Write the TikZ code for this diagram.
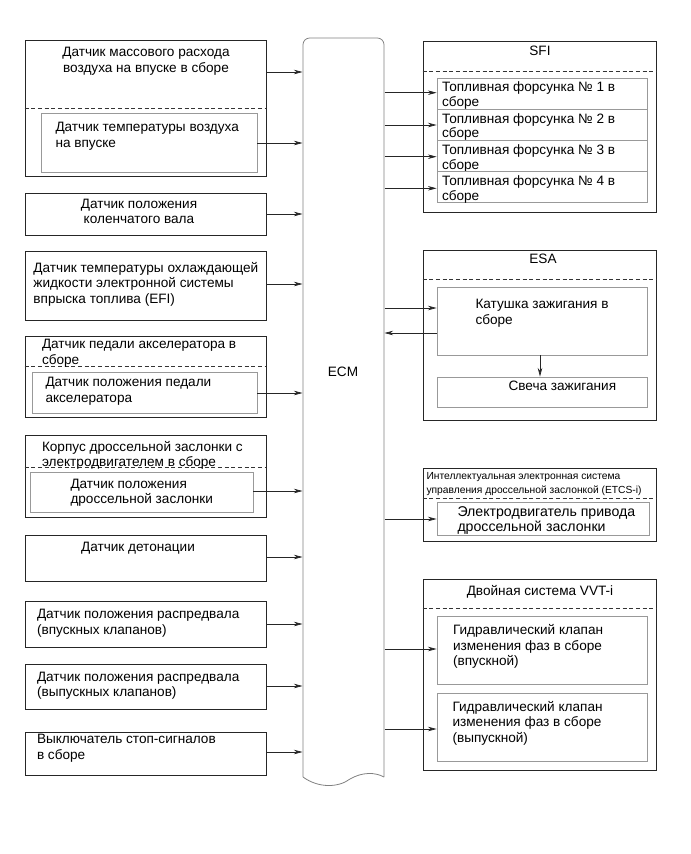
\documentclass[tikz,border=0pt]{standalone}
\usepackage{fontspec}
\setmainfont{Liberation Sans}
\usepackage{tikz}
\usetikzlibrary{fit,arrows.meta}
\tikzset{every picture/.style={line width=0.75pt}}
\tikzset{
  outerbox/.style={draw=black!85, line width=0.6pt, inner sep=0pt},
  innerbox/.style={draw=black!40, line width=0.6pt, inner sep=0pt},
  dashsep/.style={draw=black!80, line width=0.6pt, dash pattern={on 3pt off 2pt}},
  txt/.style={inner sep=0pt, anchor=north west, align=left, font=\fontsize{10.2}{11.6}\selectfont},
  ctxt/.style={txt, anchor=north, align=center},
  sig/.style={draw=black!85, line width=0.5pt, -{Stealth[length=6.5pt,width=3.4pt]}},
}

\begin{document}
\begin{tikzpicture}[x=0.75pt,y=0.75pt,yscale=-1,xscale=1]
\useasboundingbox (0,0) rectangle (690,854);

%Shape: ECM
\node[fit={(303,38) (384,777)}, inner sep=0pt] (ecm) {};
\draw[draw=black!50, line width=0.6pt, rounded corners=5] (303,777) -- (303,38) -- (384,38) -- (384,777);
\draw[draw=black!50, line width=0.6pt] (384,777) .. controls (375,772) and (362,772) .. (350,779) .. controls (338,788) and (318,788) .. (303,777);
\node[font=\fontsize{10.2}{12}\selectfont, inner sep=0pt] (ecmt) at (343,372) {ECM};

%Shape: Rectangle -- mass air flow
\node[outerbox, fit={(25,40) (266,176)}] (maf) {};
\draw[dashsep] (maf.west |- 0,108) -- (maf.east |- 0,108);
\node[ctxt] (maft) at (146,47) {Датчик массового расхода\\воздуха на впуске в сборе};
\node[innerbox, fit={(41,113) (257,172)}] (iat) {};
\node[txt] (iatt) at (55,122) {Датчик температуры воздуха\\на впуске};
\draw[sig] (maf.east |- 0,72) -- (ecm.west |- 0,72);
\draw[sig] (iat.east |- 0,143) -- (ecm.west |- 0,143);

%Shape: Rectangle -- crankshaft
\node[outerbox, fit={(25,193) (266,235)}] (ckp) {};
\node[ctxt] (ckpt) at (139,198.5) {Датчик положения\\коленчатого вала};
\draw[sig] (ckp.east |- 0,214) -- (ecm.west |- 0,214);

%Shape: Rectangle -- coolant
\node[outerbox, fit={(25,251) (266,320)}] (ect) {};
\node[txt] (ectt) at (33,261.5) {Датчик температуры охлаждающей\\жидкости электронной системы\\впрыска топлива (EFI)};
\draw[sig] (ect.east |- 0,284) -- (ecm.west |- 0,284);

%Shape: Rectangle -- accelerator pedal
\node[outerbox, fit={(25,336) (266,417)}] (app) {};
\draw[dashsep] (app.west |- 0,366) -- (app.east |- 0,366);
\node[txt] (appt) at (41.5,339) {Датчик педали акселератора в\\сборе};
\node[innerbox, fit={(32,372) (257,413)}] (pps) {};
\node[txt] (ppst) at (45,377) {Датчик положения педали\\акселератора};
\draw[sig] (pps.east |- 0,393) -- (ecm.west |- 0,393);

%Shape: Rectangle -- throttle body
\node[outerbox, fit={(25,435) (266,517)}] (tb) {};
\draw[dashsep] (tb.west |- 0,467) -- (tb.east |- 0,467);
\node[txt] (tbt) at (41.5,440.5) {Корпус дроссельной заслонки с\\электродвигателем в сборе};
\node[innerbox, fit={(30,472) (253,512)}] (tps) {};
\node[txt] (tpst) at (70,478.5) {Датчик положения\\дроссельной заслонки};
\draw[sig] (tps.east |- 0,491) -- (ecm.west |- 0,491);

%Shape: Rectangle -- knock
\node[outerbox, fit={(25,535) (266,581)}] (ks) {};
\node[ctxt] (kst) at (138,541.5) {Датчик детонации};
\draw[sig] (ks.east |- 0,557) -- (ecm.west |- 0,557);

%Shape: Rectangle -- camshaft intake
\node[outerbox, fit={(25,601) (266,647)}] (camin) {};
\node[txt] (camint) at (36.5,609) {Датчик положения распредвала\\(впускных клапанов)};
\draw[sig] (camin.east |- 0,624) -- (ecm.west |- 0,624);

%Shape: Rectangle -- camshaft exhaust
\node[outerbox, fit={(25,664) (266,709)}] (camex) {};
\node[txt] (camext) at (36.5,671.5) {Датчик положения распредвала\\(выпускных клапанов)};
\draw[sig] (camex.east |- 0,686) -- (ecm.west |- 0,686);

%Shape: Rectangle -- stop light switch
\node[outerbox, fit={(25,732) (266,775)}] (stop) {};
\node[txt] (stopt) at (36.5,734) {Выключатель стоп-сигналов\\в сборе};
\draw[sig] (stop.east |- 0,752) -- (ecm.west |- 0,752);

%Shape: Rectangle -- SFI
\node[outerbox, fit={(423,41) (656,212)}] (sfi) {};
\draw[dashsep] (sfi.west |- 0,71) -- (sfi.east |- 0,71);
\node[ctxt] (sfit) at (540,45.5) {SFI};
\foreach \i/\t/\a in {1/78.3/92.7, 2/109.4/125, 3/140.5/156.7, 4/171.6/188.3} {
  \node[innerbox, fit={(437,\t) (647,\t+31.1)}] (inj\i) {};
  \node[txt, font=\fontsize{10.2}{11.2}\selectfont] (injt\i) at (441.5,\t+3.3) {Топливная форсунка № \i{} в\\сборе};
  \draw[sig] (ecm.east |- 0,\a) -- (inj\i.west |- 0,\a);
}

%Shape: Rectangle -- ESA
\node[outerbox, fit={(423,250) (656,420)}] (esa) {};
\draw[dashsep] (esa.west |- 0,279) -- (esa.east |- 0,279);
\node[ctxt] (esat) at (543,253.5) {ESA};
\node[innerbox, fit={(437,287) (647,355)}] (coil) {};
\node[txt] (coilt) at (475,299) {Катушка зажигания в\\сборе};
\node[innerbox, fit={(437,377) (647,407)}] (plug) {};
\node[txt] (plugt) at (508,380.5) {Свеча зажигания};
\draw[sig] (ecm.east |- 0,308) -- (coil.west |- 0,308);
\draw[sig] (coil.west |- 0,333) -- (ecm.east |- 0,333);
\draw[sig] (coil.south -| 540,0) -- (plug.north -| 540,0);

%Shape: Rectangle -- ETCS-i
\node[outerbox, fit={(423,468) (656,541)}] (etcs) {};
\draw[dashsep] (etcs.west |- 0,498) -- (etcs.east |- 0,498);
\node[txt, font=\fontsize{7.7}{10.5}\selectfont] (etcst) at (426,472) {Интеллектуальная электронная система\\управления дроссельной заслонкой (ETCS-i)};
\node[innerbox, fit={(437,502) (649,535)}] (mtr) {};
\node[txt, font=\fontsize{10.6}{11.3}\selectfont] (mtrt) at (457,506.5) {Электродвигатель привода\\дроссельной заслонки};
\draw[sig] (ecm.east |- 0,519) -- (mtr.west |- 0,519);

%Shape: Rectangle -- dual VVT-i
\node[outerbox, fit={(423,579) (656,770)}] (vvt) {};
\draw[dashsep] (vvt.west |- 0,608) -- (vvt.east |- 0,608);
\node[ctxt] (vvtt) at (540,585) {Двойная система VVT-i};
\node[innerbox, fit={(437,616) (647,684)}] (ocvin) {};
\node[txt] (ocvint) at (452.5,624) {Гидравлический клапан\\изменения фаз в сборе\\(впускной)};
\node[innerbox, fit={(437,693) (647,761)}] (ocvex) {};
\node[txt] (ocvext) at (452,700.5) {Гидравлический клапан\\изменения фаз в сборе\\(выпускной)};
\draw[sig] (ecm.east |- 0,649) -- (ocvin.west |- 0,649);
\draw[sig] (ecm.east |- 0,729) -- (ocvex.west |- 0,729);
\end{tikzpicture}
\end{document}
